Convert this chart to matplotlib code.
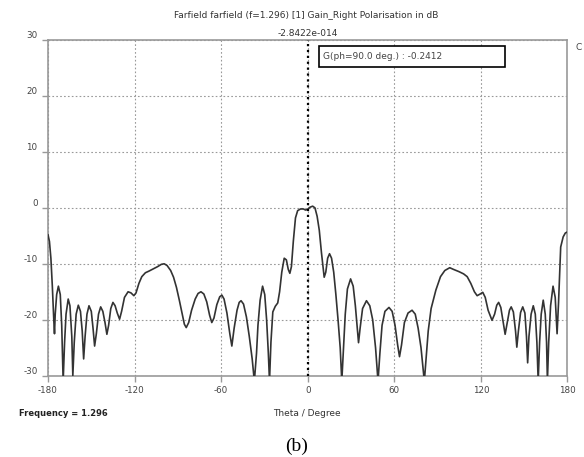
import matplotlib.pyplot as plt
from matplotlib.patches import Rectangle

# far-field gain curve (theta in degree, gain in dB)
theta = [
    -180, -179, -178, -177, -176, -175.5, -175, -174, -172.8, -171.5,
    -170.5, -169.5, -168.5, -167.5, -166, -164.8, -163.5, -162.8, -161.8, -160.5,
    -159, -157.5, -156.3, -155.3, -154.3, -153, -151.6, -150, -148.8, -147.7,
    -146.5, -145, -143.5, -142, -140.5, -139.2, -138, -136.5, -135, -133.5,
    -132, -130.4, -129, -127, -124.5, -122.5, -120.5, -119, -117, -115,
    -112.5, -110, -107, -104, -101.5, -99.5, -97.5, -95, -93, -91,
    -89, -87, -85.5, -84.2, -82.5, -80.5, -78, -76, -74, -72,
    -70, -68, -66.5, -65, -63, -61, -59.5, -58, -56, -54,
    -52.6, -51, -49, -47.5, -46.2, -44.5, -42.5, -40.5, -38.5, -37,
    -35.5, -34.5, -33, -31.3, -29.8, -28.5, -27.3, -26.5, -25.5, -24.2,
    -22.5, -20.8, -19.5, -18, -16.3, -14.8, -13.5, -12.4, -11.3, -10,
    -8.5, -7, -5, -3, -1.5, 0, 1.5, 3.4, 5, 6.5,
    8, 9.5, 11.4, 12.5, 13.8, 15.1, 16.5, 18, 19.5, 21,
    22.5, 23.6, 24.8, 26, 27.5, 29.7, 31.5, 33, 34.3, 35.2,
    36.3, 38, 40.7, 43, 45, 47, 48.7, 50, 51.5, 53.5,
    56.3, 58.5, 60.5, 62.3, 63.6, 65, 67, 69.5, 72.3, 74.5,
    76.5, 78.5, 80.8, 82, 83.5, 85.5, 88.8, 92, 95, 98.4,
    101, 104.8, 108, 110.5, 113, 115.5, 117.4, 119.5, 121.3, 123,
    125, 127.7, 129.5, 131, 132.3, 133.8, 135.5, 136.8, 138.3, 139.8,
    141, 142.5, 144, 144.9, 146, 147.5, 149, 150.5, 151.6, 152.4,
    153.3, 154.8, 156.3, 157.7, 158.8, 159.7, 160.7, 161.8, 163.2, 164.6,
    165.5, 166.1, 167, 168.3, 170, 171.5, 172.8, 173.8, 175.3, 177,
    178.5, 180,
]
gain = [
    -4.8, -6, -9, -14, -20, -22.5, -19, -15.5, -14, -15.5,
    -21, -31, -24, -19, -16.3, -17.5, -23, -30, -24, -19,
    -17.4, -18.5, -22, -27, -23, -19, -17.5, -18.5, -21.5, -24.7,
    -22.5, -19, -17.7, -18.5, -20.5, -22.6, -21, -18, -16.9, -17.5,
    -18.8, -19.9, -18.5, -16, -15, -15.2, -15.7, -15.2, -13.5, -12.3,
    -11.6, -11.3, -10.9, -10.5, -10.1, -10, -10.3, -11.2, -12.4, -14.2,
    -16.5, -19, -20.8, -21.4, -20.5, -18.3, -16.3, -15.3, -15, -15.4,
    -16.8, -19.2, -20.5, -19.7, -17.3, -15.9, -15.6, -16.3, -18.8, -22.5,
    -24.7, -21.5, -18.3, -16.9, -16.6, -17.2, -19.5, -23, -27, -31,
    -26, -21, -16.5, -14, -15.5, -20, -26, -31, -24, -18.6,
    -17.6, -17, -15, -11.5, -9, -9.3, -11, -11.7, -10.5, -6,
    -1.8, -0.5, -0.2, -0.2, -0.4, -0.24, 0.1, 0.3, 0, -1.5,
    -4, -8, -12.4, -11.5, -9, -8.2, -9, -11.5, -15.5, -20,
    -25, -31, -25, -19, -14.5, -12.7, -14, -17.5, -21.5, -24.1,
    -21.5, -18, -16.6, -17.5, -20, -25, -31, -26, -21, -18.5,
    -17.8, -18.5, -21, -24.5, -26.6, -24.5, -20.5, -18.8, -18.3, -19,
    -21.5, -25, -31, -27, -22, -18, -14.7, -12.3, -11.2, -10.7,
    -11, -11.4, -11.8, -12.3, -13.5, -15, -15.7, -15.4, -15.1, -16,
    -18.3, -20.1, -19, -17.4, -16.9, -17.8, -20.5, -22.6, -20.5, -18.3,
    -17.7, -18.6, -22, -24.9, -22, -18.7, -17.7, -18.8, -23, -27.7,
    -23, -19, -17.5, -19, -24, -31, -24, -19, -16.5, -19,
    -24, -31, -24, -17.5, -14, -16, -22.5, -17, -7, -5.2,
    -4.5, -4.3,
]

x_ticks = [-180, -120, -60, 0, 60, 120, 180]
y_ticks = [-30, -20, -10, 0, 10, 20, 30]
marker_theta = 0
marker_label = "-2.8422e-014"
marker_text = "G(ph=90.0 deg.) : -0.2412"

plt.rcParams['font.family'] = ['DejaVu Sans']
plt.rcParams['axes.unicode_minus'] = False
fig = plt.figure(figsize=(5.84, 4.57), dpi=100)
ax = fig.add_axes([0.0822, 0.1779, 0.8895, 0.7346])

ax.plot(theta, gain, color="#333333", linewidth=1.2, zorder=3)
ax.axvline(marker_theta, color="black", linestyle=":", linewidth=1.6, zorder=4)

ax.set_xlim(-180, 180)
ax.set_ylim(-30, 30)
ax.set_xticks(x_ticks)
ax.set_yticks(y_ticks)
ax.grid(True, color="#999999", linestyle=(0, (1.5, 2)), linewidth=0.8)
for s in ax.spines.values():
    s.set_color("#999999")
    s.set_linewidth(1.2)
ax.tick_params(colors="#999999", labelcolor="#444444", labelsize=6.3, length=4, width=1)
for lab in ax.get_yticklabels():
    lab.set_verticalalignment("bottom")

# marker box and labels
ax.add_patch(Rectangle((0.5216, 0.9196), 0.3581, 0.0624, transform=ax.transAxes,
                       facecolor="white", edgecolor="black", linewidth=1.2, zorder=5))
ax.text(0.5296, 0.9508, marker_text, transform=ax.transAxes, fontsize=6.5,
        color="#444444", va="center", ha="left", zorder=6)
ax.text(marker_theta, 1.005, marker_label, transform=ax.get_xaxis_transform(),
        fontsize=6.5, color="#333333", ha="center", va="bottom")

fig.text(306.5 / 584, 1 - 15 / 457, "Farfield farfield (f=1.296) [1] Gain_Right Polarisation in dB",
         fontsize=6.5, color="#333333", ha="center", va="center")
fig.text(576 / 584, 1 - 47 / 457, "C", fontsize=6.5, color="#444444", ha="left", va="center")
fig.text(19 / 584, 1 - 413 / 457, "Frequency = 1.296", fontsize=6, weight="bold",
         color="#222222", ha="left", va="center")
fig.text(307 / 584, 1 - 413 / 457, "Theta / Degree", fontsize=6.5, color="#333333",
         ha="center", va="center")
fig.text(297 / 584, 1 - 446 / 457, "(b)", fontsize=14, family="Liberation Serif",
         color="black", ha="center", va="center")

fig.savefig("out.png", dpi=100)
